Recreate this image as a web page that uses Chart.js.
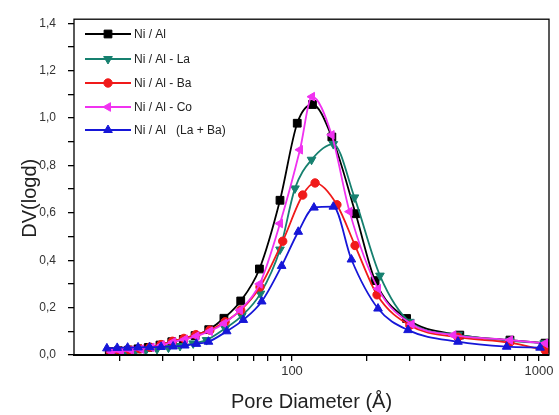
<!DOCTYPE html>
<html>
<head>
<meta charset="utf-8">
<script src="https://cdn.jsdelivr.net/npm/chart.js@4.4.0/dist/chart.umd.min.js"></script>
<style>
  html, body { margin: 0; padding: 0; background: #fff; }
</style>
</head>
<body>
<canvas id="poreChart" width="559" height="415"></canvas>
<script>
// pore size distribution
const niAlD   = [18.2, 19.8, 21.8, 23.8, 26.2, 29.2, 32.6, 36.3, 40.5, 46, 53, 62, 73.8, 89.4, 105, 121, 145, 181, 217, 291, 478, 763, 1058];
const niAlV   = [0.014, 0.018, 0.021, 0.026, 0.032, 0.042, 0.056, 0.066, 0.082, 0.107, 0.155, 0.228, 0.363, 0.653, 0.978, 1.057, 0.92, 0.596, 0.314, 0.154, 0.084, 0.063, 0.05];

const niAlLaD = [19, 21, 23.2, 25.6, 28.4, 31.6, 35.2, 39.8, 45.1, 53.6, 62.6, 74.5, 89.4, 102.8, 120, 147, 179, 227, 300, 470, 760, 1050];
const niAlLaV = [0.01, 0.013, 0.016, 0.02, 0.025, 0.031, 0.038, 0.049, 0.063, 0.112, 0.165, 0.259, 0.445, 0.703, 0.824, 0.89, 0.665, 0.335, 0.14, 0.085, 0.06, 0.05];

const niAlBaD = [18.4, 20, 22, 24.2, 26.6, 29.5, 32.8, 36.5, 40.8, 46.5, 53.6, 62, 74.2, 91.7, 110.5, 124, 152, 180, 221, 300, 470, 760, 1060];
const niAlBaV = [0.013, 0.017, 0.021, 0.026, 0.033, 0.044, 0.058, 0.07, 0.086, 0.105, 0.14, 0.189, 0.287, 0.48, 0.675, 0.726, 0.634, 0.462, 0.254, 0.125, 0.075, 0.052, 0.02];

const niAlCoD = [18.6, 20.3, 22.3, 24.5, 27, 29.7, 33, 36.8, 41, 46.5, 53, 61.6, 74, 89.4, 107.7, 120.5, 144.7, 171, 223, 305, 450, 763, 1058];
const niAlCoV = [0.012, 0.016, 0.02, 0.025, 0.032, 0.042, 0.055, 0.066, 0.08, 0.1, 0.133, 0.189, 0.3, 0.555, 0.866, 1.09, 0.929, 0.605, 0.28, 0.13, 0.084, 0.063, 0.049];

const niAlLaBaD = [17.8, 19.6, 21.6, 23.8, 26.5, 29.5, 33, 36.8, 41, 45.9, 54.4, 63.5, 75.4, 90.8, 106, 122.7, 147, 174, 223, 295, 470, 740, 1010];
const niAlLaBaV = [0.028, 0.03, 0.031, 0.032, 0.033, 0.034, 0.036, 0.04, 0.047, 0.056, 0.1, 0.148, 0.226, 0.376, 0.52, 0.622, 0.626, 0.403, 0.196, 0.105, 0.056, 0.035, 0.031];

const seriesLabels = ['Ni / Al', 'Ni / Al - La', 'Ni / Al - Ba', 'Ni / Al - Co', 'Ni / Al   (La + Ba)'];

const xTickValues = [20, 30, 40, 50, 60, 70, 80, 90, 100, 200, 300, 400, 500, 600, 700, 800, 900, 1000];
const xTickLabels = [100, 1000];
const yTickValues = [0, 0.1, 0.2, 0.3, 0.4, 0.5, 0.6, 0.7, 0.8, 0.9, 1.0, 1.1, 1.2, 1.3, 1.4];

const FONT = '"Liberation Sans", Arial, sans-serif';

const toPoints = (xs, ys) => xs.map((x, i) => ({ x: x, y: ys[i] }));

const styles = [
    { color: '#000000', pointStyle: 'rect', rotation: 0, radius: 5.5, order: 5 },
    { color: '#16806f', pointStyle: 'triangle', rotation: 180, radius: 5, order: 4 },
    { color: '#f01a1a', pointStyle: 'circle', rotation: 0, radius: 4.2, order: 3 },
    { color: '#f032f0', pointStyle: 'triangle', rotation: -90, radius: 5, order: 2 },
    { color: '#1616d8', pointStyle: 'triangle', rotation: 0, radius: 5, order: 1 }
];

const seriesData = [
    toPoints(niAlD, niAlV),
    toPoints(niAlLaD, niAlLaV),
    toPoints(niAlBaD, niAlBaV),
    toPoints(niAlCoD, niAlCoV),
    toPoints(niAlLaBaD, niAlLaBaV)
];

const datasets = seriesData.map((data, i) => ({
    label: seriesLabels[i],
    data: data,
    order: styles[i].order,
    borderColor: styles[i].color,
    backgroundColor: styles[i].color,
    borderWidth: 1.8,
    pointStyle: styles[i].pointStyle,
    pointRotation: styles[i].rotation,
    pointRadius: styles[i].radius,
    pointBorderWidth: 1,
    pointBackgroundColor: styles[i].color,
    pointBorderColor: styles[i].color,
    cubicInterpolationMode: 'monotone',
    fill: false
}));

// frame around the plot area
const framePlugin = {
    id: 'frame',
    afterDraw(chart) {
        const { ctx, chartArea: a } = chart;
        ctx.save();
        ctx.strokeStyle = '#000';
        ctx.lineWidth = 1.3;
        ctx.strokeRect(a.left, a.top, a.right - a.left, a.bottom - a.top);
        ctx.lineWidth = 2;
        ctx.beginPath();
        ctx.moveTo(a.left - 1, a.bottom);
        ctx.lineTo(a.right, a.bottom);
        ctx.stroke();
        ctx.restore();
    }
};

// legend box inside the plot, top left
const insideLegend = {
    id: 'insideLegend',
    afterDraw(chart) {
        const ctx = chart.ctx;
        const rowsY = [34, 59, 83, 107, 130];
        ctx.save();
        ctx.font = '12px ' + FONT;
        ctx.textBaseline = 'middle';
        seriesLabels.forEach((label, i) => {
            const s = styles[i];
            const y = rowsY[i];
            ctx.strokeStyle = s.color;
            ctx.fillStyle = s.color;
            ctx.lineWidth = 2;
            ctx.beginPath();
            ctx.moveTo(85, y);
            ctx.lineTo(131, y);
            ctx.stroke();
            ctx.lineWidth = 1;
            Chart.helpers.drawPoint(ctx, {
                pointStyle: s.pointStyle,
                rotation: s.rotation,
                radius: s.radius,
                borderWidth: 1
            }, 108, y);
            ctx.fillStyle = '#222';
            ctx.fillText(label, 134, y + 1);
        });
        ctx.restore();
    }
};

new Chart(document.getElementById('poreChart'), {
    type: 'line',
    data: { datasets: datasets },
    plugins: [framePlugin, insideLegend],
    options: {
        responsive: false,
        animation: false,
        layout: { padding: { left: 0, right: 10, top: 17, bottom: 0 } },
        plugins: { legend: { display: false }, tooltip: { enabled: false } },
        scales: {
            x: {
                type: 'logarithmic',
                min: 13.1,
                max: 1098,
                afterBuildTicks(scale) {
                    scale.ticks = xTickValues.map(v => ({ value: v }));
                },
                afterFit(scale) { scale.height = 60; },
                border: { display: false },
                grid: { drawOnChartArea: false, drawTicks: true, tickLength: 6, color: '#000', lineWidth: 1.3 },
                ticks: {
                    autoSkip: false,
                    maxRotation: 0,
                    padding: 3,
                    color: '#333',
                    font: { family: FONT, size: 13 },
                    callback: v => (xTickLabels.includes(v) ? String(v) : '')
                },
                title: {
                    display: true,
                    text: 'Pore Diameter (Å)',
                    color: '#222',
                    font: { family: FONT, size: 20, lineHeight: 1.2 },
                    padding: { top: 0, bottom: 1 }
                }
            },
            y: {
                min: 0,
                max: 1.417,
                afterBuildTicks(scale) {
                    scale.ticks = yTickValues.map(v => ({ value: v }));
                },
                afterFit(scale) { scale.width = 74; },
                border: { display: false },
                grid: { drawOnChartArea: false, drawTicks: true, tickLength: 6, color: '#000', lineWidth: 1.3 },
                ticks: {
                    autoSkip: false,
                    padding: 12,
                    color: '#333',
                    font: { family: FONT, size: 12 },
                    callback: v => (Math.round(v * 10) % 2 === 0 ? v.toFixed(1).replace('.', ',') : '')
                },
                title: {
                    display: true,
                    text: 'DV(logd)    ',
                    color: '#222',
                    font: { family: FONT, size: 20, lineHeight: 1.2 },
                    padding: { top: 18, bottom: 0 }
                }
            }
        }
    }
});
</script>
</body>
</html>
